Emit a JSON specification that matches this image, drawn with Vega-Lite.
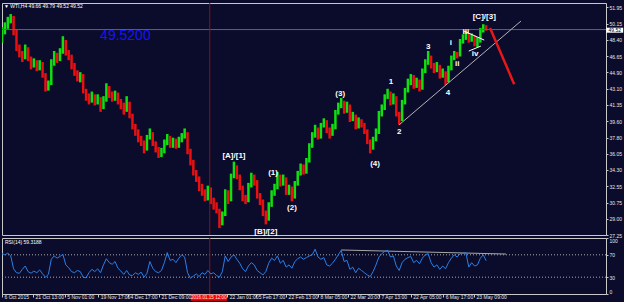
{
  "$schema": "https://vega.github.io/schema/vega-lite/v6.json",
  "background": "#0b0b2b",
  "padding": {"left": 1, "top": 2, "right": 0, "bottom": 0},
  "bounds": "flush",
  "spacing": 3,
  "config": {
    "view": {"stroke": "#c8c8c8", "strokeWidth": 1, "fill": "#0b0b2b"},
    "axis": {"labelFont": "Liberation Sans", "labelFontSize": 5, "labelColor": "#e6e6e6", "tickColor": "#c8c8c8", "domain": false, "grid": false, "labelOverlap": false},
    "text": {"font": "Liberation Sans"}
  },
  "datasets": {
    "bars": [
      {"i":0,"o":49.0,"h":49.8,"l":48.1,"c":49.3,"r":72},
      {"i":6,"o":49.3,"h":50.3,"l":49.0,"c":49.9,"r":70},
      {"i":12,"o":49.9,"h":50.9,"l":49.6,"c":50.6,"r":73},
      {"i":18,"o":50.6,"h":51.2,"l":50.2,"c":50.9,"r":68},
      {"i":24,"o":50.9,"h":51.0,"l":48.9,"c":49.3,"r":45},
      {"i":30,"o":49.3,"h":49.5,"l":47.2,"c":47.6,"r":38},
      {"i":36,"o":47.6,"h":47.9,"l":46.5,"c":46.9,"r":37},
      {"i":42,"o":46.9,"h":47.2,"l":46.0,"c":46.5,"r":44},
      {"i":48,"o":46.5,"h":47.9,"l":46.3,"c":47.5,"r":50},
      {"i":54,"o":47.5,"h":47.6,"l":46.1,"c":46.4,"r":40},
      {"i":60,"o":46.4,"h":46.6,"l":45.2,"c":45.7,"r":37},
      {"i":66,"o":45.7,"h":46.4,"l":45.4,"c":46.0,"r":41},
      {"i":72,"o":46.0,"h":46.2,"l":45.0,"c":45.4,"r":38},
      {"i":78,"o":45.4,"h":46.2,"l":45.1,"c":45.9,"r":43},
      {"i":84,"o":45.9,"h":46.0,"l":44.3,"c":44.6,"r":36},
      {"i":90,"o":44.6,"h":44.8,"l":42.8,"c":43.2,"r":30},
      {"i":96,"o":43.2,"h":44.0,"l":42.9,"c":43.6,"r":35},
      {"i":102,"o":43.6,"h":46.3,"l":43.5,"c":45.9,"r":62},
      {"i":108,"o":45.9,"h":47.2,"l":45.6,"c":46.8,"r":68},
      {"i":114,"o":46.8,"h":47.0,"l":45.9,"c":46.3,"r":64},
      {"i":120,"o":46.3,"h":47.5,"l":46.1,"c":47.1,"r":67},
      {"i":126,"o":47.1,"h":48.8,"l":46.9,"c":48.2,"r":71},
      {"i":132,"o":48.2,"h":48.4,"l":46.7,"c":47.0,"r":52},
      {"i":138,"o":47.0,"h":47.3,"l":46.2,"c":46.6,"r":47},
      {"i":144,"o":46.6,"h":46.8,"l":45.2,"c":45.6,"r":40},
      {"i":150,"o":45.6,"h":45.9,"l":44.5,"c":44.8,"r":38},
      {"i":156,"o":44.8,"h":45.1,"l":43.9,"c":44.3,"r":42},
      {"i":162,"o":44.3,"h":44.9,"l":43.8,"c":44.6,"r":40},
      {"i":168,"o":44.6,"h":44.7,"l":42.6,"c":42.9,"r":30},
      {"i":174,"o":42.9,"h":43.1,"l":41.8,"c":42.2,"r":29},
      {"i":180,"o":42.2,"h":42.6,"l":41.4,"c":41.8,"r":38},
      {"i":186,"o":41.8,"h":42.8,"l":41.6,"c":42.3,"r":44},
      {"i":192,"o":42.3,"h":42.5,"l":41.3,"c":41.6,"r":40},
      {"i":198,"o":41.6,"h":42.5,"l":41.4,"c":42.1,"r":45},
      {"i":204,"o":42.1,"h":42.2,"l":40.6,"c":41.1,"r":38},
      {"i":210,"o":41.1,"h":42.3,"l":40.9,"c":41.9,"r":52},
      {"i":216,"o":41.9,"h":43.7,"l":41.7,"c":43.2,"r":63},
      {"i":222,"o":43.2,"h":43.4,"l":42.1,"c":42.4,"r":56},
      {"i":228,"o":42.4,"h":42.8,"l":41.7,"c":42.0,"r":53},
      {"i":234,"o":42.0,"h":42.9,"l":41.8,"c":42.5,"r":58},
      {"i":240,"o":42.5,"h":42.7,"l":41.4,"c":41.7,"r":46},
      {"i":246,"o":41.7,"h":42.0,"l":40.9,"c":41.3,"r":41},
      {"i":252,"o":41.3,"h":41.6,"l":40.3,"c":40.8,"r":35},
      {"i":258,"o":40.8,"h":42.3,"l":40.6,"c":41.5,"r":42},
      {"i":264,"o":41.5,"h":41.7,"l":39.9,"c":40.2,"r":34},
      {"i":270,"o":40.2,"h":40.4,"l":38.7,"c":39.0,"r":33},
      {"i":276,"o":39.0,"h":39.3,"l":38.0,"c":38.4,"r":38},
      {"i":282,"o":38.4,"h":38.7,"l":37.3,"c":37.7,"r":35},
      {"i":288,"o":37.7,"h":38.0,"l":36.9,"c":37.3,"r":39},
      {"i":294,"o":37.3,"h":37.5,"l":36.1,"c":36.6,"r":30},
      {"i":300,"o":36.6,"h":38.1,"l":36.4,"c":37.8,"r":37},
      {"i":306,"o":37.8,"h":38.8,"l":37.6,"c":38.3,"r":58},
      {"i":312,"o":38.3,"h":38.4,"l":36.9,"c":37.2,"r":46},
      {"i":318,"o":37.2,"h":37.4,"l":36.2,"c":36.5,"r":40},
      {"i":324,"o":36.5,"h":36.8,"l":35.6,"c":36.0,"r":38},
      {"i":330,"o":36.0,"h":36.7,"l":35.7,"c":36.3,"r":42},
      {"i":336,"o":36.3,"h":37.6,"l":36.1,"c":37.3,"r":56},
      {"i":342,"o":37.3,"h":38.2,"l":37.0,"c":37.8,"r":74},
      {"i":348,"o":37.8,"h":38.0,"l":36.7,"c":37.0,"r":60},
      {"i":354,"o":37.0,"h":37.8,"l":36.7,"c":37.5,"r":62},
      {"i":360,"o":37.5,"h":37.7,"l":36.6,"c":36.9,"r":56},
      {"i":366,"o":36.9,"h":37.9,"l":36.7,"c":37.6,"r":64},
      {"i":372,"o":37.6,"h":38.3,"l":37.3,"c":37.9,"r":70},
      {"i":378,"o":37.9,"h":38.8,"l":37.7,"c":38.3,"r":66},
      {"i":384,"o":38.3,"h":38.4,"l":36.0,"c":36.4,"r":38},
      {"i":390,"o":36.4,"h":36.6,"l":34.8,"c":35.2,"r":28},
      {"i":396,"o":35.2,"h":35.4,"l":33.7,"c":34.0,"r":32},
      {"i":402,"o":34.0,"h":34.3,"l":33.0,"c":33.4,"r":36},
      {"i":408,"o":33.4,"h":33.6,"l":32.0,"c":32.3,"r":31},
      {"i":414,"o":32.3,"h":32.8,"l":31.5,"c":31.9,"r":38},
      {"i":420,"o":31.9,"h":32.2,"l":30.9,"c":31.2,"r":35},
      {"i":426,"o":31.2,"h":32.6,"l":31.0,"c":32.3,"r":42},
      {"i":432,"o":32.3,"h":32.4,"l":30.6,"c":31.0,"r":36},
      {"i":438,"o":31.0,"h":31.3,"l":30.0,"c":30.4,"r":38},
      {"i":444,"o":30.4,"h":30.8,"l":29.6,"c":30.0,"r":33},
      {"i":450,"o":30.0,"h":30.1,"l":28.0,"c":28.6,"r":30},
      {"i":456,"o":28.6,"h":29.8,"l":28.3,"c":29.4,"r":40},
      {"i":462,"o":29.4,"h":32.2,"l":29.3,"c":31.9,"r":68},
      {"i":468,"o":31.9,"h":32.1,"l":30.6,"c":31.0,"r":58},
      {"i":474,"o":31.0,"h":33.9,"l":30.9,"c":33.6,"r":66},
      {"i":480,"o":33.6,"h":35.2,"l":33.4,"c":34.6,"r":70},
      {"i":486,"o":34.6,"h":34.8,"l":33.3,"c":33.6,"r":62},
      {"i":492,"o":33.6,"h":33.8,"l":32.1,"c":32.4,"r":55},
      {"i":498,"o":32.4,"h":32.6,"l":30.9,"c":31.2,"r":45},
      {"i":504,"o":31.2,"h":31.6,"l":30.6,"c":31.0,"r":40},
      {"i":510,"o":31.0,"h":32.9,"l":30.8,"c":32.6,"r":50},
      {"i":516,"o":32.6,"h":34.0,"l":32.4,"c":33.5,"r":56},
      {"i":522,"o":33.5,"h":33.8,"l":32.6,"c":33.0,"r":52},
      {"i":528,"o":33.0,"h":33.2,"l":31.2,"c":31.5,"r":42},
      {"i":534,"o":31.5,"h":31.8,"l":30.5,"c":30.9,"r":38},
      {"i":540,"o":30.9,"h":31.1,"l":29.3,"c":29.6,"r":34},
      {"i":546,"o":29.6,"h":29.9,"l":28.4,"c":29.0,"r":40},
      {"i":552,"o":29.0,"h":30.8,"l":28.8,"c":30.5,"r":55},
      {"i":558,"o":30.5,"h":32.1,"l":30.3,"c":31.8,"r":64},
      {"i":564,"o":31.8,"h":32.8,"l":31.5,"c":32.4,"r":60},
      {"i":570,"o":32.4,"h":34.1,"l":32.2,"c":33.6,"r":68},
      {"i":576,"o":33.6,"h":33.8,"l":32.5,"c":32.9,"r":55},
      {"i":582,"o":32.9,"h":33.8,"l":32.6,"c":33.4,"r":60},
      {"i":588,"o":33.4,"h":33.5,"l":31.6,"c":31.9,"r":48},
      {"i":594,"o":31.9,"h":32.7,"l":31.6,"c":32.3,"r":52},
      {"i":600,"o":32.3,"h":32.5,"l":30.9,"c":31.4,"r":46},
      {"i":606,"o":31.4,"h":33.1,"l":31.2,"c":32.8,"r":58},
      {"i":612,"o":32.8,"h":34.2,"l":32.6,"c":33.9,"r":63},
      {"i":618,"o":33.9,"h":35.0,"l":33.7,"c":34.6,"r":66},
      {"i":624,"o":34.6,"h":34.9,"l":33.8,"c":34.1,"r":62},
      {"i":630,"o":34.1,"h":35.6,"l":33.9,"c":35.3,"r":65},
      {"i":636,"o":35.3,"h":37.2,"l":35.1,"c":36.9,"r":68},
      {"i":642,"o":36.9,"h":38.4,"l":36.7,"c":38.0,"r":70},
      {"i":648,"o":38.0,"h":39.2,"l":37.8,"c":38.7,"r":80},
      {"i":654,"o":38.7,"h":38.9,"l":37.6,"c":37.9,"r":66},
      {"i":660,"o":37.9,"h":39.4,"l":37.7,"c":39.1,"r":62},
      {"i":666,"o":39.1,"h":39.9,"l":38.9,"c":39.5,"r":65},
      {"i":672,"o":39.5,"h":39.7,"l":38.3,"c":38.6,"r":52},
      {"i":678,"o":38.6,"h":38.9,"l":37.7,"c":38.2,"r":50},
      {"i":684,"o":38.2,"h":39.3,"l":38.0,"c":38.9,"r":55},
      {"i":690,"o":38.9,"h":40.8,"l":38.7,"c":40.5,"r":62},
      {"i":696,"o":40.5,"h":41.6,"l":40.3,"c":41.2,"r":70},
      {"i":702,"o":41.2,"h":42.1,"l":41.0,"c":41.6,"r":78},
      {"i":708,"o":41.6,"h":41.8,"l":40.4,"c":40.7,"r":58},
      {"i":714,"o":40.7,"h":41.7,"l":40.5,"c":41.3,"r":60},
      {"i":720,"o":41.3,"h":41.4,"l":39.5,"c":39.8,"r":44},
      {"i":726,"o":39.8,"h":40.6,"l":39.6,"c":40.2,"r":48},
      {"i":732,"o":40.2,"h":40.3,"l":38.7,"c":39.0,"r":38},
      {"i":738,"o":39.0,"h":40.0,"l":38.8,"c":39.6,"r":46},
      {"i":744,"o":39.6,"h":39.8,"l":38.9,"c":39.2,"r":42},
      {"i":750,"o":39.2,"h":39.4,"l":38.2,"c":38.5,"r":38},
      {"i":756,"o":38.5,"h":38.7,"l":37.1,"c":37.4,"r":34},
      {"i":762,"o":37.4,"h":37.6,"l":36.1,"c":36.7,"r":31},
      {"i":768,"o":36.7,"h":37.9,"l":36.5,"c":37.6,"r":40},
      {"i":774,"o":37.6,"h":38.8,"l":37.4,"c":38.4,"r":52},
      {"i":780,"o":38.4,"h":40.7,"l":38.2,"c":40.4,"r":66},
      {"i":786,"o":40.4,"h":41.4,"l":40.1,"c":41.0,"r":72},
      {"i":792,"o":41.0,"h":42.5,"l":40.8,"c":42.2,"r":76},
      {"i":798,"o":42.2,"h":43.1,"l":42.0,"c":42.6,"r":78},
      {"i":804,"o":42.6,"h":42.8,"l":41.3,"c":41.6,"r":66},
      {"i":810,"o":41.6,"h":42.6,"l":41.4,"c":42.2,"r":68},
      {"i":816,"o":42.2,"h":42.3,"l":40.1,"c":40.4,"r":50},
      {"i":822,"o":40.4,"h":40.6,"l":39.2,"c":39.8,"r":42},
      {"i":828,"o":39.8,"h":41.9,"l":39.6,"c":41.6,"r":56},
      {"i":834,"o":41.6,"h":43.2,"l":41.4,"c":42.9,"r":62},
      {"i":840,"o":42.9,"h":44.2,"l":42.7,"c":43.7,"r":65},
      {"i":846,"o":43.7,"h":44.7,"l":43.5,"c":44.4,"r":67},
      {"i":852,"o":44.4,"h":44.6,"l":43.1,"c":43.4,"r":56},
      {"i":858,"o":43.4,"h":44.3,"l":43.2,"c":43.9,"r":60},
      {"i":864,"o":43.9,"h":44.1,"l":42.8,"c":43.2,"r":54},
      {"i":870,"o":43.2,"h":45.3,"l":43.0,"c":45.0,"r":64},
      {"i":876,"o":45.0,"h":46.3,"l":44.8,"c":45.9,"r":70},
      {"i":882,"o":45.9,"h":47.2,"l":45.7,"c":46.5,"r":72},
      {"i":888,"o":46.5,"h":46.7,"l":45.3,"c":45.6,"r":56},
      {"i":894,"o":45.6,"h":45.9,"l":44.8,"c":45.2,"r":48},
      {"i":900,"o":45.2,"h":46.0,"l":44.9,"c":45.6,"r":52},
      {"i":906,"o":45.6,"h":45.7,"l":44.2,"c":44.5,"r":44},
      {"i":912,"o":44.5,"h":45.3,"l":44.3,"c":44.9,"r":50},
      {"i":918,"o":44.9,"h":45.0,"l":43.5,"c":44.0,"r":45},
      {"i":924,"o":44.0,"h":45.6,"l":43.8,"c":45.3,"r":56},
      {"i":930,"o":45.3,"h":46.7,"l":45.1,"c":46.4,"r":64},
      {"i":936,"o":46.4,"h":47.2,"l":46.2,"c":46.9,"r":70},
      {"i":942,"o":46.9,"h":47.1,"l":46.4,"c":46.8,"r":66},
      {"i":948,"o":46.8,"h":48.5,"l":46.6,"c":48.2,"r":72},
      {"i":954,"o":48.2,"h":49.0,"l":48.0,"c":48.6,"r":73},
      {"i":960,"o":48.6,"h":49.3,"l":48.4,"c":49.0,"r":74},
      {"i":966,"o":49.0,"h":49.1,"l":48.1,"c":48.4,"r":48},
      {"i":972,"o":48.4,"h":49.1,"l":48.2,"c":48.8,"r":56},
      {"i":978,"o":48.8,"h":48.9,"l":47.7,"c":48.0,"r":50},
      {"i":984,"o":48.0,"h":48.7,"l":47.6,"c":48.3,"r":52},
      {"i":990,"o":48.3,"h":49.7,"l":48.1,"c":49.4,"r":64},
      {"i":996,"o":49.4,"h":50.1,"l":49.2,"c":49.9,"r":70},
      {"i":1002,"o":49.9,"h":50.0,"l":49.4,"c":49.52,"r":59.3}
    ],
    "waves": [
      {"t":"[A]/[1]","i":480,"p":35.78},
      {"t":"[B]/[2]","i":546,"p":27.6},
      {"t":"(1)","i":561,"p":33.93},
      {"t":"(2)","i":600,"p":30.13},
      {"t":"(3)","i":700,"p":42.51},
      {"t":"(4)","i":772,"p":34.91},
      {"t":"1","i":805,"p":43.82},
      {"t":"2","i":822,"p":38.39},
      {"t":"3","i":882,"p":47.62},
      {"t":"4","i":923,"p":42.62},
      {"t":"i","i":929,"p":48.05},
      {"t":"ii","i":942,"p":45.77},
      {"t":"iii","i":960,"p":49.25},
      {"t":"iv","i":979,"p":46.86},
      {"t":"[C]/[3]","i":998,"p":50.88}
    ],
    "lines": [
      {"g":"trend","i":822,"p":39.2},
      {"g":"trend","i":1074,"p":50.44},
      {"g":"arrow","i":1010,"p":49.68},
      {"g":"arrow","i":1060,"p":43.6},
      {"g":"w1","i":956,"p":49.36},
      {"g":"w1","i":998,"p":48.38},
      {"g":"w2","i":966,"p":47.19},
      {"g":"w2","i":991,"p":47.73}
    ],
    "rsilines": [
      {"g":"res","i":702,"r":78.6},
      {"g":"res","i":1043,"r":71.4}
    ]
  },
  "vconcat": [
    {
      "width": 604,
      "height": 232,
      "layer": [
        {
          "data": {"name": "bars"},
          "mark": {"type": "rule", "strokeWidth": 2.5, "clip": true},
          "encoding": {
            "x": {"field": "i", "type": "quantitative", "scale": {"domain": [0, 1250], "nice": false, "zero": false}, "axis": null},
            "y": {"field": "l", "type": "quantitative", "scale": {"domain": [27.25, 52.4], "nice": false, "zero": false},
              "axis": {"orient": "right", "values": [51.95, 50.15, 48.4, 46.65, 44.9, 43.1, 41.35, 39.6, 37.8, 36.05, 34.3, 32.55, 30.75, 29, 27.25], "tickCount": 30, "format": ".2f", "tickSize": 2, "labelPadding": 1, "labelOverlap": false, "title": null}},
            "y2": {"field": "h"},
            "color": {"condition": {"test": "datum.c >= datum.o", "value": "#10e010"}, "value": "#e81010"}
          }
        },
        {
          "data": {"values": [{"p": 49.52}]},
          "mark": {"type": "rule", "color": "#62627a", "strokeWidth": 1},
          "encoding": {"y": {"field": "p", "type": "quantitative", "scale": {"domain": [27.25, 52.4], "nice": false, "zero": false}}}
        },
        {
          "data": {"values": [{"i": 430}]},
          "mark": {"type": "rule", "color": "#8c1414", "strokeWidth": 1},
          "encoding": {"x": {"field": "i", "type": "quantitative", "scale": {"domain": [0, 1250], "nice": false, "zero": false}, "axis": null}}
        },
        {
          "data": {"name": "lines"},
          "transform": [{"filter": "datum.g == 'trend'"}],
          "mark": {"type": "line", "color": "#b4b4b4", "strokeWidth": 1},
          "encoding": {
            "x": {"field": "i", "type": "quantitative", "scale": {"domain": [0, 1250], "nice": false, "zero": false}, "axis": null},
            "y": {"field": "p", "type": "quantitative", "scale": {"domain": [27.25, 52.4], "nice": false, "zero": false}}
          }
        },
        {
          "data": {"name": "lines"},
          "transform": [{"filter": "datum.g == 'w1' || datum.g == 'w2'"}],
          "mark": {"type": "line", "color": "#ffffff", "strokeWidth": 1},
          "encoding": {
            "x": {"field": "i", "type": "quantitative", "scale": {"domain": [0, 1250], "nice": false, "zero": false}, "axis": null},
            "y": {"field": "p", "type": "quantitative", "scale": {"domain": [27.25, 52.4], "nice": false, "zero": false}},
            "detail": {"field": "g"}
          }
        },
        {
          "data": {"name": "lines"},
          "transform": [{"filter": "datum.g == 'arrow'"}],
          "mark": {"type": "line", "color": "#e81818", "strokeWidth": 2.5},
          "encoding": {
            "x": {"field": "i", "type": "quantitative", "scale": {"domain": [0, 1250], "nice": false, "zero": false}, "axis": null},
            "y": {"field": "p", "type": "quantitative", "scale": {"domain": [27.25, 52.4], "nice": false, "zero": false}}
          }
        },
        {
          "data": {"name": "waves"},
          "mark": {"type": "text", "color": "#ffffff", "fontSize": 8, "fontWeight": "bold", "align": "center", "baseline": "middle"},
          "encoding": {
            "x": {"field": "i", "type": "quantitative", "scale": {"domain": [0, 1250], "nice": false, "zero": false}, "axis": null},
            "y": {"field": "p", "type": "quantitative", "scale": {"domain": [27.25, 52.4], "nice": false, "zero": false}},
            "text": {"field": "t"}
          }
        },
        {
          "data": {"values": [{"t": "▼ WTI,H4  49.66 49.79 49.52 49.52", "i": 4, "p": 52.07}]},
          "mark": {"type": "text", "color": "#ffffff", "fontSize": 5, "align": "left", "baseline": "middle"},
          "encoding": {
            "x": {"field": "i", "type": "quantitative", "scale": {"domain": [0, 1250], "nice": false, "zero": false}, "axis": null},
            "y": {"field": "p", "type": "quantitative", "scale": {"domain": [27.25, 52.4], "nice": false, "zero": false}},
            "text": {"field": "t"}
          }
        },
        {
          "data": {"values": [{"t": "49.5200", "i": 203, "p": 48.38}]},
          "mark": {"type": "text", "color": "#1414ff", "fontSize": 14, "align": "left", "baseline": "alphabetic"},
          "encoding": {
            "x": {"field": "i", "type": "quantitative", "scale": {"domain": [0, 1250], "nice": false, "zero": false}, "axis": null},
            "y": {"field": "p", "type": "quantitative", "scale": {"domain": [27.25, 52.4], "nice": false, "zero": false}},
            "text": {"field": "t"}
          }
        },
        {
          "data": {"values": [{"t": "49.52", "i": 1268, "p": 49.45}]},
          "layer": [
            {
              "mark": {"type": "rect", "color": "#ffffff", "width": 17, "height": 5},
              "encoding": {
                "x": {"field": "i", "type": "quantitative", "scale": {"domain": [0, 1250], "nice": false, "zero": false}, "axis": null},
                "y": {"field": "p", "type": "quantitative", "scale": {"domain": [27.25, 52.4], "nice": false, "zero": false}}
              }
            },
            {
              "mark": {"type": "text", "color": "#000000", "fontSize": 5, "align": "center", "baseline": "middle"},
              "encoding": {
                "x": {"field": "i", "type": "quantitative", "scale": {"domain": [0, 1250], "nice": false, "zero": false}, "axis": null},
                "y": {"field": "p", "type": "quantitative", "scale": {"domain": [27.25, 52.4], "nice": false, "zero": false}},
                "text": {"field": "t"}
              }
            }
          ]
        }
      ]
    },
    {
      "width": 604,
      "height": 56,
      "layer": [
        {
          "data": {"values": [{"r": 30}, {"r": 70}]},
          "mark": {"type": "rule", "color": "#a8a8a8", "strokeWidth": 1, "strokeDash": [1, 2]},
          "encoding": {
            "y": {"field": "r", "type": "quantitative", "scale": {"domain": [0, 100], "nice": false, "zero": false},
              "axis": {"orient": "right", "values": [0, 30, 70, 100], "tickCount": 10, "tickSize": 2, "labelPadding": 1, "labelOverlap": false, "labelFlush": true, "title": null}}
          }
        },
        {
          "data": {"values": [{"i": 430}]},
          "mark": {"type": "rule", "color": "#8c1414", "strokeWidth": 1},
          "encoding": {"x": {"field": "i", "type": "quantitative", "scale": {"domain": [0, 1250], "nice": false, "zero": false},
            "axis": {"orient": "bottom", "values": [0, 64, 130, 199, 261, 325, 466, 526, 588, 654, 716, 780, 846, 913, 977], "tickCount": 30,
              "labelExpr": "['6 Oct 2015','21 Oct 13:00','5 Nov 01:00','19 Nov 17:00','4 Dec 17:00','21 Dec 09:00','22 Jan 01:00','5 Feb 17:00','22 Feb 13:00','8 Mar 05:00','22 Mar 20:00','7 Apr 13:00','22 Apr 05:00','6 May 17:00','23 May 09:00'][indexof([0,64,130,199,261,325,466,526,588,654,716,780,846,913,977], datum.value)]",
              "labelAlign": "left", "labelFlush": false, "labelOverlap": false, "tickSize": 3, "labelPadding": -3, "labelOffset": 2, "title": null}}}
        },
        {
          "data": {"name": "rsilines"},
          "mark": {"type": "line", "color": "#a8a8a8", "strokeWidth": 1},
          "encoding": {
            "x": {"field": "i", "type": "quantitative", "scale": {"domain": [0, 1250], "nice": false, "zero": false}},
            "y": {"field": "r", "type": "quantitative", "scale": {"domain": [0, 100], "nice": false, "zero": false}}
          }
        },
        {
          "data": {"name": "bars"},
          "mark": {"type": "line", "color": "#2a80e6", "strokeWidth": 1, "clip": true},
          "encoding": {
            "x": {"field": "i", "type": "quantitative", "scale": {"domain": [0, 1250], "nice": false, "zero": false}},
            "y": {"field": "r", "type": "quantitative", "scale": {"domain": [0, 100], "nice": false, "zero": false}}
          }
        },
        {
          "data": {"values": [{"t": "RSI(14) 59.3188", "i": 6, "r": 92.9}]},
          "mark": {"type": "text", "color": "#ffffff", "fontSize": 5, "align": "left", "baseline": "middle"},
          "encoding": {
            "x": {"field": "i", "type": "quantitative", "scale": {"domain": [0, 1250], "nice": false, "zero": false}},
            "y": {"field": "r", "type": "quantitative", "scale": {"domain": [0, 100], "nice": false, "zero": false}},
            "text": {"field": "t"}
          }
        },
        {
          "data": {"values": [{"t": "2016.01.15 12:00", "i": 428, "r": -6.6}]},
          "layer": [
            {
              "mark": {"type": "rect", "color": "#ff0000", "width": 36, "height": 6},
              "encoding": {
                "x": {"field": "i", "type": "quantitative", "scale": {"domain": [0, 1250], "nice": false, "zero": false}},
                "y": {"field": "r", "type": "quantitative", "scale": {"domain": [0, 100], "nice": false, "zero": false}}
              }
            },
            {
              "mark": {"type": "text", "color": "#ffe0e0", "fontSize": 4.6, "align": "center", "baseline": "middle"},
              "encoding": {
                "x": {"field": "i", "type": "quantitative", "scale": {"domain": [0, 1250], "nice": false, "zero": false}},
                "y": {"field": "r", "type": "quantitative", "scale": {"domain": [0, 100], "nice": false, "zero": false}},
                "text": {"field": "t"}
              }
            }
          ]
        }
      ]
    }
  ]
}
